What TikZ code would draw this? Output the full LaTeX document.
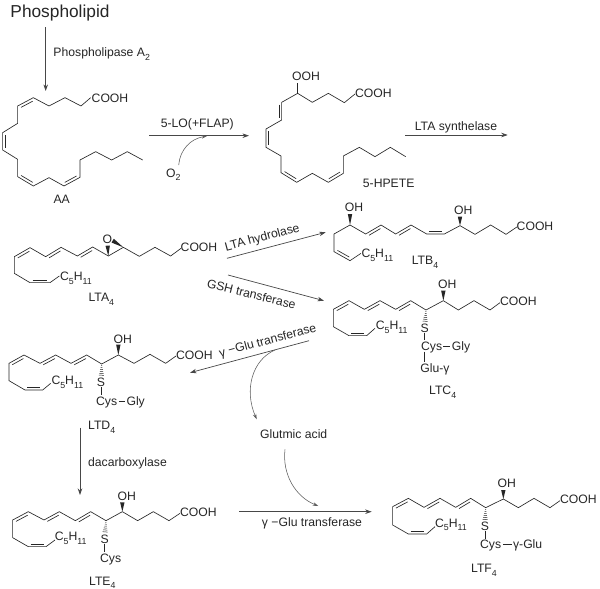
\documentclass[tikz,border=0pt]{standalone}
\usepackage{fontspec}
\setmainfont{Liberation Sans}
\usetikzlibrary{calc,arrows.meta}
\definecolor{ink}{gray}{0.15}
\tikzset{
  bond/.style={draw=ink,line width=0.65pt,line join=miter},
  lab/.style={inner sep=0pt,text height=8.7pt,text depth=0pt,text=ink,font=\fontsize{12.2}{14}\selectfont},
  big/.style={inner sep=0pt,text height=12.4pt,text depth=0pt,text=ink,font=\fontsize{17.3}{20}\selectfont},
  arr/.style={draw=ink!85,line width=0.7pt,-{Stealth[length=6.5pt,width=4.5pt]}},
  carr/.style={draw=ink!75,line width=0.55pt,-{Stealth[length=5.5pt,width=3.5pt]}},
  zs/.style={shift={(#1)},x=.33333pt,y=-.33333pt},
}
\newcommand\sbs[1]{\raisebox{-.3em}{\fontsize{8.8}{9}\selectfont #1}}
\newcommand\dbl[3]{\draw[bond] ($(#1)!.13!(#2)!2.8pt!#3:(#2)$) -- ($(#1)!.87!(#2)!2.8pt!#3:(#2)$);}
\newcommand\wdg[2]{\fill[ink] (#1) -- ($(#2)!2.2pt!90:(#1)$) -- ($(#2)!2.2pt!-90:(#1)$) -- cycle;}
\newcommand\hsh[2]{\foreach \t/\w in {.08/.5,.24/.9,.40/1.3,.56/1.7,.72/2.1,.88/2.5}{\draw[ink,line width=.5pt] ($(#1)!\t!(#2)!\w pt!90:(#2)$) -- ($(#1)!\t!(#2)!\w pt!-90:(#2)$);}}
\begin{document}
\begin{tikzpicture}[x=1pt,y=-1pt]
\useasboundingbox (0,0) rectangle (600,589);
\fill[white] (0,0) rectangle (600,589);

% ---- free arrow ends
\coordinate (plA) at (45.7,27);  \coordinate (plB) at (45.7,91);
\coordinate (loA) at (149,135.7); \coordinate (loB) at (249,135.7);
\coordinate (oxA) at (178.7,165); \coordinate (oxB) at (207,136);
\coordinate (syA) at (405,135);  \coordinate (syB) at (507.7,135);
\coordinate (hyA) at (227,258.3); \coordinate (hyB) at (325.7,232.3);
\coordinate (gsA) at (228,275);  \coordinate (gsB) at (324,300.7);
\coordinate (ggA) at (309,340.7); \coordinate (ggB) at (190,372.7);
\coordinate (glA) at (275,350);  \coordinate (glB) at (256.7,419.3);
\coordinate (acA) at (285,449.3); \coordinate (acB) at (318.3,506);
\coordinate (lgA) at (239.3,511.7); \coordinate (lgB) at (371.7,511.7);
\coordinate (daA) at (80,427.7); \coordinate (daB) at (80,495);

% ---- texts on the pathway
\node[big] (phos) at (60,11) {Phospholipid};
\node[lab] (pla) at (101.7,52) {Phospholipase A\sbs{2}};
\node[lab] (lo) at (197.3,122.7) {5-LO(+FLAP)};
\node[lab] (o2) at (173.3,172.7) {O\sbs{2}};
\node[lab] (sy) at (456,125.7) {LTA synthelase};
\node[lab,rotate=15] (hy) at (262,237) {LTA hydrolase};
\node[lab,rotate=-14] (gs) at (251.5,294) {GSH transferase};
\node[lab,rotate=15] (gg) at (267.5,340) {γ −Glu transferase};
\node[lab] (da) at (127.5,461.7) {dacarboxylase};
\node[lab] (gl) at (293.7,434.3) {Glutmic acid};
\node[lab] (lg) at (312,522) {γ −Glu transferase};

% ---- arrows
\draw[arr] (plA) -- (plB);
\draw[arr] (loA) -- (loB);
\draw[carr] (oxA) .. controls (180,150) and (190,139) .. (oxB);
\draw[arr] (syA) -- (syB);
\draw[arr] (hyA) -- (hyB);
\draw[arr] (gsA) -- (gsB);
\draw[arr] (ggA) -- (ggB);
\draw[carr] (glA) .. controls (252,360) and (244,390) .. (glB);
\draw[carr] (acA) .. controls (282,475) and (296,497) .. (acB);
\draw[arr] (lgA) -- (lgB);
\draw[arr] (daA) -- (daB);

% ---- AA
\begin{scope}[zs={0pt,0pt}]
\draw[bond] (272,293)--(243,318)--(195,293)--(147,318)--(100,293)--(53,318)--(53,370)--(8,398)--(8,450)--(53,478)--(53,530)--(100,558)--(147,533)--(192,558)--(240,532)--(240,480)--(287,455)--(335,480)--(382,455)--(428,480);
\dbl{100,293}{53,318}{90}
\dbl{8,398}{8,450}{90}
\dbl{53,530}{100,558}{90}
\dbl{192,558}{240,532}{90}
\node[lab] (aacooh) at (330,293) {COOH};
\node[lab] (aa) at (185,597) {AA};
\end{scope}

% ---- 5-HPETE
\begin{scope}[zs={250pt,-60pt}]
\draw[bond] (143,70)--(143,100);
\draw[bond] (315,102)--(283,128)--(235,100)--(187,127)--(143,100)--(95,127)--(95,180)--(48,207)--(48,262)--(93,288)--(93,338)--(140,367)--(187,340)--(235,367)--(280,340)--(280,288)--(328,262)--(375,290)--(421,262)--(467,290);
\dbl{95,127}{95,180}{-90}
\dbl{48,207}{48,262}{90}
\dbl{93,338}{140,367}{90}
\dbl{235,367}{280,340}{90}
\node[lab] (hpooh) at (168,47) {OOH};
\node[lab] (hpcooh) at (370,100) {COOH};
\node[lab] (hpete) at (416,368) {5-HPETE};
\end{scope}

% ---- LTA4
\begin{scope}[zs={0pt,-190pt}]
\draw[bond] (178,258)--(150,278)--(90,278)--(43,250)--(43,200)--(90,173)--(137,200)--(183,172)--(232,198)--(278,171)--(325,198)--(370,172)--(418,199)--(465,172)--(512,198)--(543,175);
\dbl{43,200}{90,173}{-90}
\dbl{137,200}{183,172}{-90}
\dbl{232,198}{278,171}{-90}
\dbl{90,278}{150,278}{90}
\wdg{325,198}{323,167}
\wdg{370,172}{338,152}
\node[lab] (taO) at (322,148) {O};
\node[lab] (tacooh) at (597,172) {COOH};
\node[lab] (tac5) at (228,258) {C\sbs{5}H\sbs{11}};
\node[lab] (lta) at (304,322) {LTA\sbs{4}};
\end{scope}

% ---- LTB4
\begin{scope}[zs={300pt,-190pt}]
\draw[bond] (183,190)--(150,212)--(102,185)--(102,132)--(150,105)--(197,132)--(243,105)--(287,132)--(333,105)--(380,132)--(433,132)--(480,107)--(525,133)--(572,105)--(618,133)--(652,110);
\dbl{102,185}{150,212}{90}
\dbl{197,132}{243,105}{-90}
\dbl{287,132}{333,105}{-90}
\dbl{380,132}{433,132}{90}
\wdg{150,105}{150,72}
\wdg{480,107}{480,80}
\node[lab] (tboh) at (162,52) {OH};
\node[lab] (tboh2) at (490,60) {OH};
\node[lab] (tbcooh) at (705,107) {COOH};
\node[lab] (tbc5) at (232,190) {C\sbs{5}H\sbs{11}};
\node[lab] (ltb) at (375,210) {LTB\sbs{4}};
\end{scope}

% ---- LTC4
\begin{scope}[zs={300pt,-280pt}]
\draw[bond] (225,145)--(200,167)--(147,167)--(100,140)--(100,88)--(147,62)--(193,88)--(240,62)--(287,88)--(332,62)--(378,90)--(430,62)--(475,90)--(522,62)--(570,90)--(600,68);
\dbl{100,88}{147,62}{-90}
\dbl{193,88}{240,62}{-90}
\dbl{287,88}{332,62}{-90}
\dbl{147,167}{200,167}{90}
\wdg{430,62}{430,32}
\hsh{378,92}{375,128}
\draw[bond] (374,160)--(374,180);
\draw[bond] (430,198)--(450,198);
\draw[bond] (372,215)--(372,245);
\node[lab] (tcoh) at (442,12) {OH};
\node[lab] (tccooh) at (655,63) {COOH};
\node[lab] (tcc5) at (275,135) {C\sbs{5}H\sbs{11}};
\node[lab] (tcs) at (374,145) {S};
\node[lab] (tccys) at (395,198) {Cys};
\node[lab] (tcgly) at (483,198) {Gly};
\node[lab] (tcglu) at (405,265) {Glu-γ};
\node[lab] (ltc) at (428,330) {LTC\sbs{4}};
\end{scope}

% ---- LTD4
\begin{scope}[zs={0pt,-320pt}]
\draw[bond] (152,190)--(128,210)--(75,210)--(27,182)--(27,130)--(72,105)--(120,130)--(167,105)--(213,130)--(260,105)--(305,132)--(355,105)--(402,130)--(450,103)--(497,130)--(528,108);
\dbl{27,130}{72,105}{-90}
\dbl{120,130}{167,105}{-90}
\dbl{213,130}{260,105}{-90}
\dbl{75,210}{128,210}{90}
\wdg{355,105}{355,74}
\hsh{305,134}{304,170}
\draw[bond] (303,202)--(303,225);
\draw[bond] (357,243)--(375,243);
\node[lab] (tdoh) at (368,58) {OH};
\node[lab] (tdcooh) at (583,106) {COOH};
\node[lab] (tdc5) at (202,180) {C\sbs{5}H\sbs{11}};
\node[lab] (tds) at (303,186) {S};
\node[lab] (tdcys) at (320,243) {Cys};
\node[lab] (tdgly) at (407,243) {Gly};
\node[lab] (ltd) at (305,315) {LTD\sbs{4}};
\end{scope}

% ---- LTE4
\begin{scope}[zs={0pt,-470pt}]
\draw[bond] (165,210)--(138,230)--(85,230)--(38,203)--(38,150)--(85,125)--(132,150)--(178,125)--(226,152)--(272,125)--(318,152)--(367,125)--(413,152)--(460,125)--(507,152)--(540,130);
\dbl{38,150}{85,125}{-90}
\dbl{132,150}{178,125}{-90}
\dbl{226,152}{272,125}{-90}
\dbl{85,230}{138,230}{90}
\wdg{367,125}{367,97}
\hsh{318,154}{315,190}
\draw[bond] (314,222)--(314,245);
\node[lab] (teoh) at (380,78) {OH};
\node[lab] (tecooh) at (595,127) {COOH};
\node[lab] (tec5) at (212,198) {C\sbs{5}H\sbs{11}};
\node[lab] (tes) at (314,208) {S};
\node[lab] (tecys) at (332,263) {Cys};
\node[lab] (lte) at (307,332) {LTE\sbs{4}};
\end{scope}

% ---- LTF4
\begin{scope}[zs={340pt,-460pt}]
\draw[bond] (285,200)--(260,222)--(205,222)--(158,195)--(158,140)--(205,115)--(252,142)--(300,115)--(347,142)--(392,115)--(437,143)--(490,117)--(535,143)--(582,115)--(630,143)--(660,122);
\dbl{158,140}{205,115}{-90}
\dbl{252,142}{300,115}{-90}
\dbl{347,142}{392,115}{-90}
\dbl{205,222}{260,222}{90}
\wdg{490,117}{490,90}
\hsh{437,145}{435,183}
\draw[bond] (435,213)--(435,238);
\draw[bond] (490,253)--(515,253);
\node[lab] (tfoh) at (500,68) {OH};
\node[lab] (tfcooh) at (715,117) {COOH};
\node[lab] (tfc5) at (333,188) {C\sbs{5}H\sbs{11}};
\node[lab] (tfs) at (435,198) {S};
\node[lab] (tfcys) at (452,253) {Cys};
\node[lab] (tfglu) at (563,253) {γ-Glu};
\node[lab] (ltf) at (432,324) {LTF\sbs{4}};
\end{scope}
\end{tikzpicture}
\end{document}
